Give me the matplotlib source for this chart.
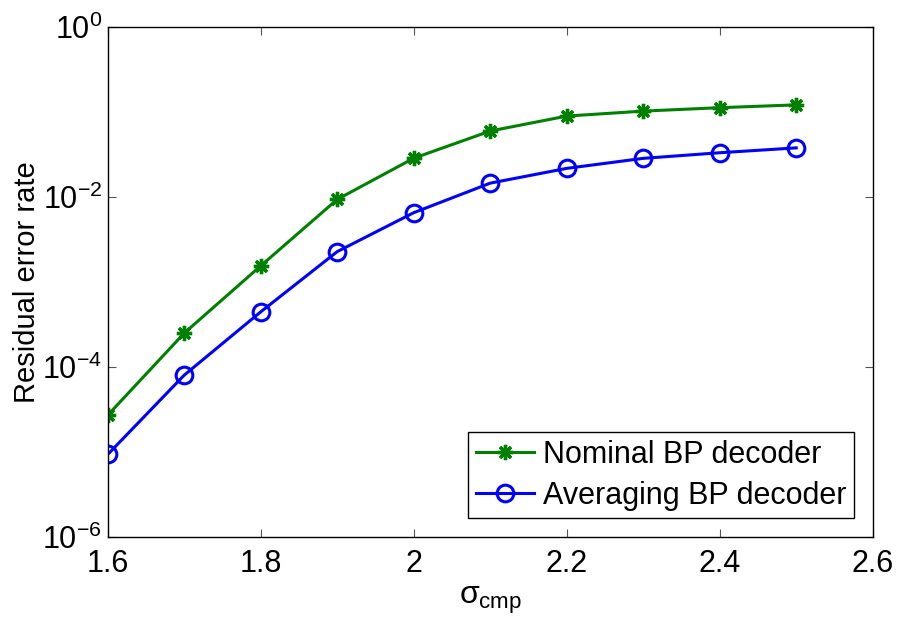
import matplotlib.pyplot as plt

plt.rcParams["font.family"] = ["Liberation Sans", "DejaVu Sans"]
plt.rcParams["mathtext.fontset"] = "custom"
plt.rcParams["mathtext.rm"] = "Liberation Sans"
plt.rcParams["mathtext.it"] = "Liberation Sans"

sigma_cmp = [1.6, 1.7, 1.8, 1.9, 2.0, 2.1, 2.2, 2.3, 2.4, 2.5]
nominal_bp = [2.7e-5, 2.5e-4, 1.55e-3, 9.4e-3, 2.87e-2, 6.0e-2, 9.0e-2, 0.103, 0.113, 0.122]
averaging_bp = [9.3e-6, 8.0e-5, 4.45e-4, 2.28e-3, 6.55e-3, 1.46e-2, 2.18e-2, 2.86e-2, 3.33e-2, 3.8e-2]

x_ticks = [1.6, 1.8, 2.0, 2.2, 2.4, 2.6]
x_ticklabels = ["1.6", "1.8", "2", "2.2", "2.4", "2.6"]
y_ticks = [1e-6, 1e-4, 1e-2, 1e0]
y_ticklabels = [r"$10^{-6}$", r"$10^{-4}$", r"$10^{-2}$", r"$10^{0}$"]

fig = plt.figure(figsize=(9, 6.23), dpi=100)
ax = fig.add_axes([0.1197, 0.1385, 0.85, 0.8177])

ax.semilogy(sigma_cmp, nominal_bp, color="#008000", linewidth=2.2,
            marker=(8, 2, 0), markersize=11, markeredgewidth=2.4,
            label="Nominal BP decoder")
ax.semilogy(sigma_cmp, averaging_bp, color="#0000ff", linewidth=2.2,
            marker="o", markersize=12, markerfacecolor="none",
            markeredgewidth=2.2, label="Averaging BP decoder")

ax.set_xlim(1.6, 2.6)
ax.set_ylim(1e-6, 1e0)
ax.set_xticks(x_ticks)
ax.set_xticklabels(x_ticklabels)
ax.set_yticks(y_ticks)
ax.set_yticklabels(y_ticklabels)
ax.minorticks_off()
ax.tick_params(direction="in", length=6, width=0.8, color="#555555",
               labelsize=22, top=True, right=True)
ax.tick_params(axis="x", pad=9)
ax.tick_params(axis="y", pad=4)

for s in ax.spines.values():
    s.set_linewidth(1.0)

ax.set_xlabel(r"$\sigma_{\mathrm{cmp}}$", fontsize=23, labelpad=4)
ax.set_ylabel("Residual error rate", fontsize=21, labelpad=1)

leg = ax.legend(loc="lower right", fontsize=22, fancybox=False,
                edgecolor="black", framealpha=1, handlelength=1.9,
                handletextpad=0.3, borderpad=0.25, labelspacing=0.35,
                borderaxespad=0.6)
leg.get_frame().set_linewidth(1.0)

fig.savefig("out.png", dpi=100)
